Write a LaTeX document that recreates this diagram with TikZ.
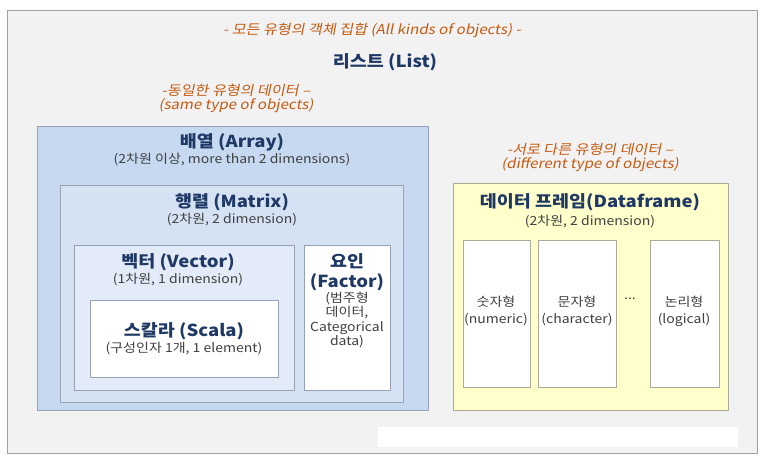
\documentclass[tikz,border=0pt]{standalone}
\usepackage{fontspec}
\setmainfont[FakeStretch=1.12]{Noto Sans CJK KR}
\newfontfamily\notefont[FakeSlant=0.2,FakeStretch=1.12]{Noto Sans CJK KR}
\definecolor{framefill}{RGB}{242,242,242}
\definecolor{frameline}{RGB}{160,160,160}
\definecolor{noteorange}{RGB}{197,90,17}
\definecolor{headblue}{RGB}{31,56,100}
\definecolor{subgray}{RGB}{64,64,64}
\definecolor{boxline}{RGB}{150,162,180}
\definecolor{arrayblue}{RGB}{198,217,241}
\definecolor{matrixblue}{RGB}{213,226,244}
\definecolor{vectorblue}{RGB}{226,235,247}
\definecolor{dfyellow}{RGB}{255,255,204}
\definecolor{dfline}{RGB}{170,170,150}

\begin{document}
\begin{tikzpicture}[x=1pt,y=-1pt,line join=round,
    note/.style={text=noteorange,font=\notefont\fontsize{13.5}{14}\selectfont,align=center,inner sep=0pt},
    head/.style={text=headblue,font=\bfseries\fontsize{16.5}{20}\selectfont,align=center,inner sep=0pt},
    sub/.style={text=subgray,font=\fontsize{12.5}{14.5}\selectfont,align=center,inner sep=0pt},
    boxdraw/.style={draw=boxline,line width=0.8pt}]
    \path[use as bounding box] (0,0) rectangle (770,467);
    \fill[white] (0,0) rectangle (770,467);

    % outer frame (list)
    \filldraw[fill=framefill,draw=frameline,line width=1pt] (7,10) rectangle (757,453);
    \fill[white] (378,427) rectangle (738,447);

    % nested boxes
    \filldraw[boxdraw,fill=arrayblue] (37,126) rectangle (428,410);
    \filldraw[boxdraw,fill=matrixblue] (60,185) rectangle (403,402);
    \filldraw[boxdraw,fill=vectorblue] (74,245) rectangle (294,390);
    \filldraw[boxdraw,fill=white] (90,300) rectangle (278,377);
    \filldraw[boxdraw,fill=white] (304,245) rectangle (390,390);

    % data frame
    \filldraw[draw=dfline,line width=0.8pt,fill=dfyellow] (453,183) rectangle (728,410);
    \filldraw[draw=dfline,line width=0.8pt,fill=white] (463,240) rectangle (530,387);
    \filldraw[draw=dfline,line width=0.8pt,fill=white] (538,240) rectangle (616,387);
    \filldraw[draw=dfline,line width=0.8pt,fill=white] (650,240) rectangle (719,387);

    % texts
    \node[note] (allnote) at (372,30) {- 모든 유형의 객체 집합 (All kinds of objects) -};
    \node[head] (list) at (385,62) {리스트 (List)};
    \node[note] (samenote) at (236,98) {-동일한 유형의 데이터 –\\(same type of objects)};
    \node[note] (diffnote) at (590,157) {-서로 다른 유형의 데이터 –\\(different type of objects)};

    \node[head] (array) at (232,142) {배열 (Array)};
    \node[sub] (arraysub) at (232,160) {(2차원 이상, more than 2 dimensions)};
    \node[head] (matrix) at (232,202) {행렬 (Matrix)};
    \node[sub] (matrixsub) at (232,220) {(2차원, 2 dimension)};
    \node[head] (vector) at (178,262) {벡터 (Vector)};
    \node[sub] (vectorsub) at (178,280) {(1차원, 1 dimension)};
    \node[head] (scala) at (184,331) {스칼라 (Scala)};
    \node[sub] (scalasub) at (184,349) {(구성인자 1개, 1 element)};
    \node[head] (factor) at (347,272) {요인\\(Factor)};
    \node[sub] (factorsub) at (347,320) {(범주형\\데이터,\\Categorical\\data)};

    \node[head] (df) at (590,202) {데이터 프레임(Dataframe)};
    \node[sub] (dfsub) at (590,222) {(2차원, 2 dimension)};
    \node[sub,font=\fontsize{12.5}{17}\selectfont] (numeric) at (496,311) {숫자형\\(numeric)};
    \node[sub,font=\fontsize{12.5}{17}\selectfont] (character) at (577,311) {문자형\\(character)};
    \node[sub] (dots) at (630,299) {...};
    \node[sub,font=\fontsize{12.5}{17}\selectfont] (logical) at (684,311) {논리형\\(logical)};
\end{tikzpicture}
\end{document}
